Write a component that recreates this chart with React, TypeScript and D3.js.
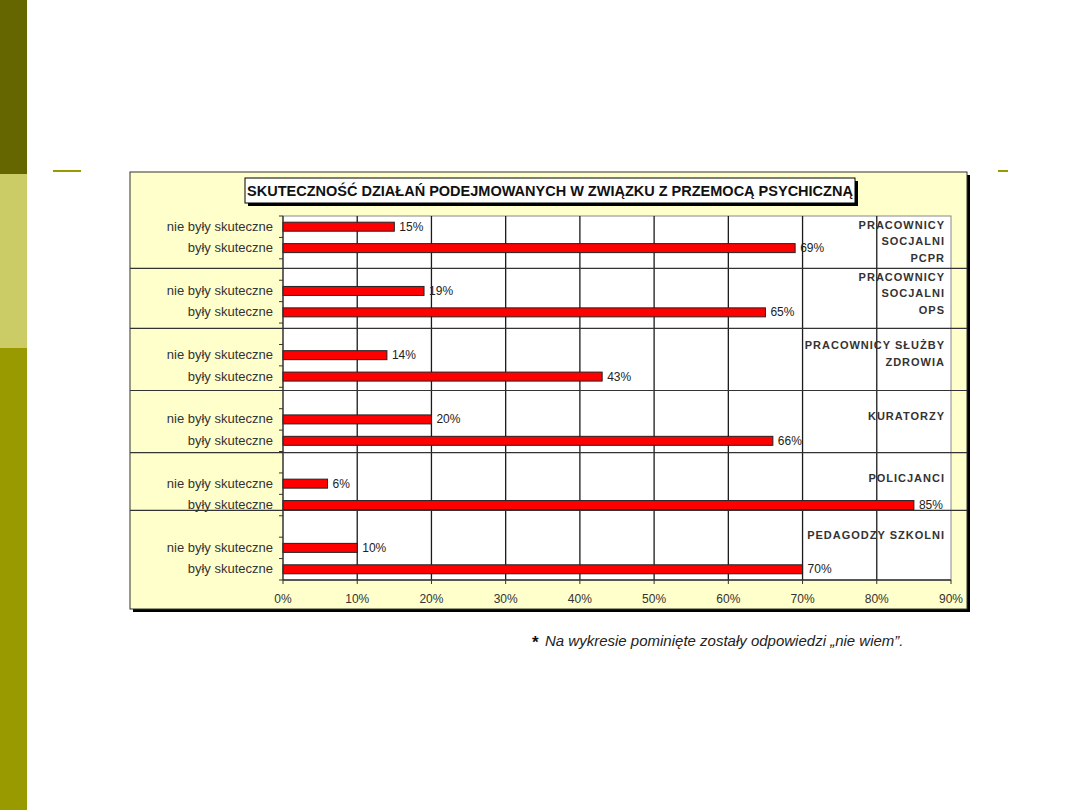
import * as d3 from "d3";

const TITLE = "SKUTECZNOŚĆ DZIAŁAŃ PODEJMOWANYCH W ZWIĄZKU Z PRZEMOCĄ PSYCHICZNĄ";
const GROUPS = [
  ["PRACOWNICY", "SOCJALNI", "PCPR"],
  ["PRACOWNICY", "SOCJALNI", "OPS"],
  ["PRACOWNICY SŁUŻBY", "ZDROWIA"],
  ["KURATORZY"],
  ["POLICJANCI"],
  ["PEDAGODZY SZKOLNI"],
];
const CATEGORIES = ["nie były skuteczne", "były skuteczne"];
const NIE = [15, 19, 14, 20, 6, 10];
const BYLY = [69, 65, 43, 66, 85, 70];
const X_TICKS = [0, 10, 20, 30, 40, 50, 60, 70, 80, 90];
// separator lines between groups, in category-slot units (as drawn in the original)
const SEPARATORS = [2.45, 5.25, 8.15, 11.05, 13.75];
const FOOTNOTE = "Na wykresie pominięte zostały odpowiedzi „nie wiem”.";

const FONT = "Arial, 'Liberation Sans', sans-serif";

export default function App() {
  const W = 1080, H = 810;
  const box = { x0: 130, y0: 172, x1: 967, y1: 609 };
  const plot = { left: 283, right: 951, top: 216, bottom: 580 };

  const slots: string[] = [];
  GROUPS.forEach((_, gi) => {
    slots.push(`${gi}-0`, `${gi}-1`);
    if (gi < GROUPS.length - 1) slots.push(`${gi}-gap`);
  });

  const y = d3.scaleBand<string>().domain(slots).range([plot.top, plot.bottom]);
  const x = d3.scaleLinear().domain([0, 90]).range([plot.left, plot.right]);
  const step = y.step();
  const barH = step * 0.42;

  const sepY = SEPARATORS.map((s) => plot.top + s * step);
  const values = [NIE, BYLY];

  return (
    <svg width={W} height={H} style={{ position: "absolute", left: 0, top: 0, background: "#fff" }}>
      {/* slide decoration */}
      <rect x={0} y={0} width={27} height={174} fill="#666600" />
      <rect x={0} y={174} width={27} height={174} fill="#CCCC66" />
      <rect x={0} y={348} width={27} height={462} fill="#999900" />
      <line x1={53} x2={81} y1={171} y2={171} stroke="#999900" strokeWidth={2} />
      <line x1={998} x2={1008} y1={171} y2={171} stroke="#999900" strokeWidth={2} />

      {/* chart frame */}
      <rect x={box.x0 + 3} y={box.y0 + 3} width={box.x1 - box.x0} height={box.y1 - box.y0} fill="#000" />
      <rect x={box.x0} y={box.y0} width={box.x1 - box.x0} height={box.y1 - box.y0} fill="#FFFFCC" stroke="#333" strokeWidth={1} />

      {/* plot area */}
      <rect x={plot.left} y={plot.top} width={plot.right - plot.left} height={plot.bottom - plot.top} fill="#fff" stroke="#888" strokeWidth={1} />

      {/* vertical gridlines */}
      {X_TICKS.filter((t) => t > 0 && t < 90).map((t) => (
        <line key={t} x1={x(t)} x2={x(t)} y1={plot.top} y2={plot.bottom} stroke="#1a1a1a" strokeWidth={1.3} />
      ))}

      {/* group separators */}
      {sepY.map((sy, i) => (
        <line key={i} x1={box.x0} x2={box.x1} y1={sy} y2={sy} stroke="#333" strokeWidth={1.2} />
      ))}

      {/* bars */}
      {GROUPS.map((_, gi) =>
        values.map((vals, ci) => {
          const key = `${gi}-${ci}`;
          const cy = (y(key) ?? 0) + y.bandwidth() / 2;
          return (
            <g key={key}>
              <rect x={x(0)} y={cy - barH / 2} width={x(vals[gi]) - x(0)} height={barH} fill="#FF0000" stroke="#222" strokeWidth={1} />
              <text x={x(vals[gi]) + 5} y={cy + 4} fontSize={12} fontFamily={FONT} fill="#222">{vals[gi]}%</text>
              <text x={plot.left - 10} y={cy + 4} fontSize={13} fontFamily={FONT} fill="#333" textAnchor="end">{CATEGORIES[ci]}</text>
            </g>
          );
        })
      )}

      {/* left axis */}
      <line x1={plot.left} x2={plot.left} y1={plot.top} y2={plot.bottom} stroke="#333" strokeWidth={1.3} />
      {d3.range(slots.length + 1).map((i) => (
        <line key={i} x1={plot.left - 4} x2={plot.left} y1={plot.top + i * step} y2={plot.top + i * step} stroke="#333" strokeWidth={1} />
      ))}

      {/* bottom axis */}
      <line x1={plot.left} x2={plot.right} y1={plot.bottom} y2={plot.bottom} stroke="#333" strokeWidth={1.3} />
      {X_TICKS.map((t) => (
        <g key={t}>
          <line x1={x(t)} x2={x(t)} y1={plot.bottom} y2={plot.bottom + 4} stroke="#333" strokeWidth={1} />
          <text x={x(t)} y={plot.bottom + 23} fontSize={12} fontFamily={FONT} fill="#333" textAnchor="middle">{t}%</text>
        </g>
      ))}

      {/* group labels */}
      {GROUPS.map((lines, gi) => {
        const top = gi === 0 ? plot.top : sepY[gi - 1];
        const center = top + 25;
        const lh = 16.5;
        return lines.map((ln, li) => (
          <text
            key={`${gi}-${li}`}
            x={945}
            y={center + (li - (lines.length - 1) / 2) * lh + 4}
            fontSize={11}
            fontWeight="bold"
            letterSpacing={1}
            fontFamily={FONT}
            fill="#333"
            textAnchor="end"
          >
            {ln}
          </text>
        ));
      })}

      {/* title */}
      <rect x={248} y={181} width={610} height={25} fill="#000" />
      <rect x={245} y={178} width={610} height={25} fill="#fff" stroke="#000" strokeWidth={1} />
      <text x={550} y={196} fontSize={14.5} fontWeight="bold" fontFamily={FONT} fill="#111" textAnchor="middle">{TITLE}</text>

      {/* footnote */}
      <text x={532} y={648} fontSize={17} fontWeight="bold" fontFamily={FONT} fill="#111">*</text>
      <text x={545} y={646} fontSize={15} fontStyle="italic" fontFamily={FONT} fill="#222">{FOOTNOTE}</text>
    </svg>
  );
}
